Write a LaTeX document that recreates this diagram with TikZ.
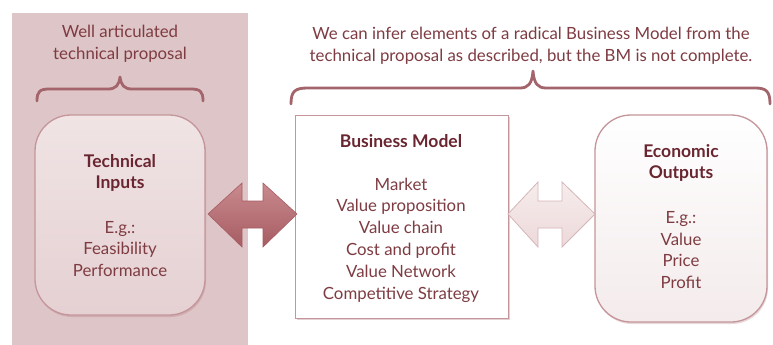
\documentclass[tikz,border=0pt]{standalone}
\usepackage{fontspec}
\setmainfont{Lato}
\usetikzlibrary{shadows}
\definecolor{panel}{HTML}{DEC5C7}
\definecolor{txt}{HTML}{7E3C42}
\definecolor{ttl}{HTML}{6A2630}
\definecolor{brd}{HTML}{C4969B}
\definecolor{brace}{HTML}{A4646C}
\definecolor{tiTop}{HTML}{F0E4E5}
\definecolor{tiBot}{HTML}{E5D0D2}
\definecolor{darkarrowtop}{HTML}{C98A8E}
\definecolor{darkarrowbot}{HTML}{A65C63}
\definecolor{lightarrowtop}{HTML}{F6ECEC}
\definecolor{lightarrowbot}{HTML}{EDD9DA}
\tikzset{
  body/.style={text=txt, align=center, font=\fontsize{16.8}{21.8}\selectfont},
  title/.style={text=ttl, align=center, font=\fontsize{17.5}{21}\selectfont\bfseries},
  roundbox/.style={draw=brd, line width=1.3pt, rounded corners=36pt,
     drop shadow={shadow xshift=1pt, shadow yshift=-2pt, opacity=0.25, fill=brace}},
  sqbox/.style={draw=brd, line width=0.9pt, fill=white,
     drop shadow={shadow xshift=1.5pt, shadow yshift=-2pt, opacity=0.3, fill=brace}},
  bracestyle/.style={draw=brace, line width=2.8pt, line cap=round, line join=round},
  bigarrow/.style={draw=darkarrowbot, line width=0.6pt, top color=darkarrowtop, bottom color=darkarrowbot},
  smallarrow/.style={draw=brd!70, line width=0.8pt, top color=lightarrowtop, bottom color=lightarrowbot}
}
\begin{document}
\begin{tikzpicture}[x=1pt,y=-1pt]
\useasboundingbox (0,0) rectangle (773,345);
\fill[white] (0,0) rectangle (773,345);
% panel
\fill[panel] (12,13) rectangle (248,345);
% boxes
\path[roundbox, top color=tiTop, bottom color=tiBot]
  (35,115) rectangle (205,315);
\node[minimum width=170pt, minimum height=200pt, inner sep=0] (ti) at (120,215) {};
\path[sqbox] (295,115) rectangle (508,318);
\node[minimum width=213pt, minimum height=203pt, inner sep=0] (bm) at (401.5,216.5) {};
\path[roundbox, top color=white, bottom color=panel!35!white]
  (595,115) rectangle (767,322);
\node[minimum width=172pt, minimum height=207pt, inner sep=0] (eo) at (681,218.5) {};
% arrows
\path[bigarrow] (208,214) -- (242,183) -- (242,201) -- (263,201) -- (263,183) -- (297,214)
  -- (263,247) -- (263,228) -- (242,228) -- (242,247) -- cycle;
\path[smallarrow] (508,214) -- (538,182) -- (538,201) -- (562,201) -- (562,182) -- (595,214)
  -- (562,247) -- (562,228) -- (538,228) -- (538,247) -- cycle;
% braces
\draw[bracestyle] (37,101) .. controls (37,91) and (40,89) .. (50,89) -- (108,89)
  .. controls (116,89) and (119,85) .. (120,77) .. controls (121,85) and (124,89) .. (132,89)
  -- (190,89) .. controls (200,89) and (203,91) .. (203,101);
\draw[bracestyle] (291,104) .. controls (291,91) and (295,88) .. (308,88) -- (520,88)
  .. controls (528,88) and (532,84) .. (533,71) .. controls (534,84) and (538,88) .. (546,88)
  -- (755,88) .. controls (766,88) and (770,91) .. (770,104);
% texts
\node[body] (t1) at (120,44) {Well articulated\\technical proposal};
\node[body] (t2) at (531,46) {We can infer elements of a radical Business Model from the\\technical proposal as described, but the BM is not complete.};
\node[title] (tih) at (120,173) {Technical\\Inputs};
\node[body] (til) at (120,249) {E.g.:\\Feasibility\\Performance};
\node[title] (bmh) at (401,141) {Business Model};
\node[body] (bml) at (401,240) {Market\\Value proposition\\Value chain\\Cost and profit\\Value Network\\Competitive Strategy};
\node[title] (eoh) at (681,163) {Economic\\Outputs};
\node[body] (eol) at (681,250) {E.g.:\\Value\\Price\\Profit};
\end{tikzpicture}
\end{document}
